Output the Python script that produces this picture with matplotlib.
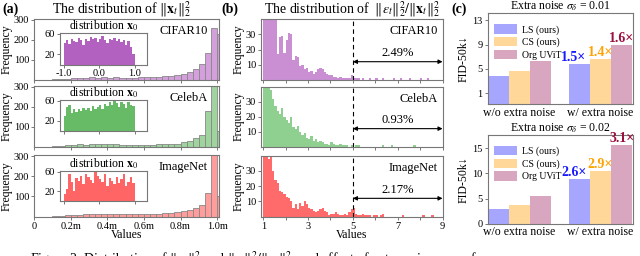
import numpy as np
import matplotlib
matplotlib.use("Agg")
import matplotlib.pyplot as plt

plt.rcParams["font.family"] = ["Liberation Serif", "DejaVu Serif"]
plt.rcParams["mathtext.fontset"] = "stix"

# ---- (a) histogram of ||x_t||^2, 31 bins of width 1/30 ----
a_names = ["CIFAR10", "CelebA", "ImageNet"]
a_cifar = [0, 0, 1, 3, 5, 5, 8, 8, 10, 14, 12, 15, 12, 14, 10, 12,
           12, 14, 13, 14, 16, 18, 20, 26, 32, 42, 55, 80, 135, 260, 230]
a_celeba = [0, 0, 0, 3, 5, 8, 10, 12, 10, 12, 14, 14, 12, 12, 10, 8,
            10, 8, 8, 10, 12, 14, 12, 16, 22, 30, 45, 60, 180, 310, 80]
a_imagenet = [0, 0, 0, 2, 5, 8, 10, 10, 12, 12, 14, 12, 14, 12, 12, 12,
              12, 12, 14, 14, 14, 16, 18, 22, 28, 32, 45, 60, 118, 320, 100]

# insets: distribution of x_0, 30 bins over [-1, 1]
in_cifar = [42, 48, 40, 50, 45, 44, 52, 47, 38, 50, 46, 53, 49, 52, 44,
            50, 55, 47, 41, 50, 48, 52, 46, 50, 44, 47, 38, 45, 35, 20]
in_celeba = [30, 48, 52, 36, 45, 38, 44, 40, 47, 42, 46, 40, 50, 44, 48,
             52, 45, 55, 50, 58, 52, 60, 56, 48, 58, 55, 46, 58, 52, 50]
in_imagenet = [15, 25, 55, 40, 20, 48, 42, 52, 35, 56, 50, 44, 38, 60, 52,
               45, 40, 55, 30, 48, 42, 35, 50, 38, 45, 55, 30, 40, 50, 38]

# ---- (b) histogram of ||eps||^2/||x||^2, 80 bins of width 0.1 from 1 ----
b_cifar = [45, 45, 45, 45, 45, 42, 17, 28, 29, 18,
           26, 31, 30, 13, 16, 15, 9, 10, 7, 8,
           5, 6, 4, 5, 7, 8, 7, 5, 4, 3,
           3, 2, 2, 1, 2, 1, 1, 1, 1, 3,
           1, 1, 1, 0, 1, 0, 0, 1, 0, 0,
           1, 0, 0, 1, 0, 0, 0, 0, 1, 0,
           0, 1, 0, 0, 0, 1, 0, 0, 0, 0,
           1, 0, 0, 1, 0, 0, 0, 0, 0, 0]
b_celeba = [45, 45, 45, 38, 32, 27, 24, 22, 26, 20,
            18, 16, 20, 13, 12, 14, 10, 8, 9, 6,
            5, 7, 4, 5, 3, 4, 3, 2, 2, 1,
            3, 2, 1, 1, 2, 1, 1, 1, 0, 1,
            0, 1, 1, 0, 0, 0, 0, 0, 0, 0,
            0, 0, 0, 1, 0, 0, 0, 1, 0, 0,
            0, 0, 0, 0, 0, 0, 0, 1, 0, 0,
            0, 0, 0, 0, 0, 0, 0, 0, 0, 0]
b_imagenet = [45, 40, 38, 40, 30, 24, 22, 17, 16, 15,
              13, 12, 10, 6, 8, 5, 9, 7, 10, 8,
              6, 5, 4, 3, 4, 5, 6, 4, 3, 1,
              2, 2, 3, 2, 1, 1, 2, 1, 3, 5,
              6, 2, 1, 1, 2, 1, 1, 1, 0, 1,
              1, 0, 1, 2, 0, 0, 0, 0, 0, 0,
              0, 0, 1, 0, 0, 0, 0, 0, 0, 0,
              0, 1, 0, 0, 0, 1, 0, 0, 0, 0]
b_pct = ["2.49%", "0.93%", "2.17%"]

# ---- (c) FID-50k bars ----
c_groups = ["w/o extra noise", "w/ extra noise"]
c_methods = ["LS (ours)", "CS (ours)", "Org UViT"]
c_top = [[3.9, 5.9], [4.6, 6.7], [6.3, 9.0]]
c_top_ratio = ["1.5×", "1.4×", "1.6×"]
c_bot = [[3.0, 8.8], [3.8, 10.5], [5.5, 15.7]]
c_bot_ratio = ["2.6×", "2.9×", "3.1×"]

W, H = 640, 256
fig = plt.figure(figsize=(6.4, 2.56), dpi=100)


def box(x0, y0, x1, y1):
    # pixel box (top-left origin) -> figure rect
    return [x0 / W, 1 - y1 / H, (x1 - x0) / W, (y1 - y0) / H]


def grey_spines(ax, size=7.5):
    for s in ax.spines.values():
        s.set_color("#777777")
        s.set_linewidth(0.8)
    ax.tick_params(colors="#777777", labelcolor="black", labelsize=size,
                   length=2.5, width=0.7, pad=1)


fill_a = ["#d4a0dc", "#9fd49f", "#ff9d9d"]
fill_in = ["#a545b5", "#4cb04c", "#ff4a4a"]
fill_b = ["#c98fd2", "#8fcf8f", "#ff6a6a"]

a_data = [a_cifar, a_celeba, a_imagenet]
in_data = [in_cifar, in_celeba, in_imagenet]
b_data = [b_cifar, b_celeba, b_imagenet]
a_rows = [(18.5, 80), (86, 146.7), (155, 216.7)]
in_rows = [(32.7, 64.5), (100, 131), (171, 201)]

a_edges = np.arange(31) / 30
in_edges = np.linspace(-1, 1, 31)[:-1]
b_edges = 1 + np.arange(80) * 0.1

for k in range(3):
    y0, y1 = a_rows[k]
    ax = fig.add_axes(box(34, y0, 219, y1))
    ax.bar(a_edges, a_data[k], width=1 / 30, align="edge", color=fill_a[k],
           edgecolor="#888888", linewidth=0.6)
    ax.set_xlim(0, 1.01)
    ax.set_ylim(0, 305)
    ax.set_yticks([100, 200, 300])
    ax.set_xticks([0, 0.2, 0.4, 0.6, 0.8, 1.0])
    grey_spines(ax)
    ax.set_ylabel("Frequency", fontsize=8.5, labelpad=1)
    if k < 2:
        ax.set_xticklabels([])
    else:
        ax.set_xticklabels(["0", "0.2m", "0.4m", "0.6m", "0.8m", "1.0m"])
        ax.set_xlabel("Values", fontsize=8.5, labelpad=-1)
    ax.text(0.94, 0.8, a_names[k], transform=ax.transAxes, ha="right",
            va="center", fontsize=9)

    iy0, iy1 = in_rows[k]
    ai = fig.add_axes(box(60, iy0, 147, iy1))
    ai.bar(in_edges, in_data[k], width=2 / 30, align="edge", color=fill_in[k],
           alpha=0.85, linewidth=0)
    ai.set_xlim(-1.1, 1.35)
    ai.set_ylim(0, 62)
    ai.set_yticks([20, 60])
    ai.set_xticks([-1, 0, 1])
    grey_spines(ai)
    if k == 0:
        ai.set_xticklabels(["-1.0", "0.0", "1.0"])
    else:
        ai.set_xticklabels([])
    ai.set_title(r"distribution $\mathbf{x}_0$", fontsize=8.5, pad=1)

    # (b)
    bx = fig.add_axes(box(261, y0 + 0.5, 443, y1))
    bx.bar(b_edges, b_data[k], width=0.1, align="edge", color=fill_b[k],
           linewidth=0)
    bx.set_xlim(0.9, 9.02)
    bx.set_ylim(0, 40)
    bx.set_yticks([10, 20, 30])
    bx.set_xticks([1, 2, 3, 4, 5, 6, 7, 8, 9])
    grey_spines(bx)
    bx.set_ylabel("Frequency", fontsize=8.5, labelpad=1)
    if k < 2:
        bx.set_xticklabels([])
    else:
        bx.set_xticklabels(["1", "", "3", "", "5", "", "7", "", "9"])
        bx.set_xlabel("Values", fontsize=8.5, labelpad=-1)
    bx.axvline(5, color="black", ls=(0, (4, 3)), lw=0.8)
    bx.annotate("", xy=(9, 12), xytext=(5, 12),
                arrowprops=dict(arrowstyle="<|-|>", color="black", lw=0.8,
                                mutation_scale=6, shrinkA=0, shrinkB=0))
    bx.text(7, 13.5, b_pct[k], ha="center", va="bottom", fontsize=9)
    bx.text(0.97, 0.8, a_names[k], transform=bx.transAxes, ha="right",
            va="center", fontsize=9)

fig.text(2 / W, 1 - 9 / H, "(a)", fontsize=10, fontweight="bold", va="center")
fig.text(122 / W, 1 - 9.5 / H, r"The distribution of $\|\mathbf{x}_t\|_2^2$",
         fontsize=10, ha="center", va="center")
fig.text(221 / W, 1 - 9 / H, "(b)", fontsize=10, fontweight="bold", va="center")
fig.text(352 / W, 1 - 9.5 / H,
         r"The distribution of  $\|\epsilon_t\|_2^2/\|\mathbf{x}_t\|_2^2$",
         fontsize=10, ha="center", va="center")
fig.text(451 / W, 1 - 9 / H, "(c)", fontsize=10, fontweight="bold", va="center")

# (c)
c_cols = ["#a6a6ff", "#ffd899", "#d9a6bf"]
r_cols = ["#1a1aff", "#ffa200", "#9b0f3c"]
bw = 0.26
xg = np.arange(len(c_groups))
r_shift = [-0.07, 0.0, 0.0]


def fid_panel(rect, vals, ratios, ylim, yticks, title):
    ax = fig.add_axes(rect)
    lo = ylim[0]
    for m in range(3):
        h = np.array(vals[m]) - lo
        ax.bar(xg + (m - 1) * bw, h, width=bw, bottom=lo, color=c_cols[m],
               label=c_methods[m])
        ax.text(xg[1] + (m - 1) * bw + r_shift[m], vals[m][1],
                ratios[m], color=r_cols[m], fontsize=10, fontweight="bold",
                ha="center", va="bottom")
    ax.set_xlim(-0.39, 1.40)
    ax.set_ylim(*ylim)
    ax.set_yticks(yticks)
    ax.set_xticks(xg)
    ax.set_xticklabels(c_groups)
    grey_spines(ax)
    ax.tick_params(axis="x", labelsize=8.5, length=0, pad=2)
    ax.set_ylabel("FID-50k↓", fontsize=8.5, labelpad=2)
    ax.set_title(title, fontsize=8.5, pad=0.5)
    ax.legend(loc="upper left", bbox_to_anchor=(0.0, 0.95), frameon=False,
              fontsize=7, handlelength=2.3, handleheight=1.1,
              labelspacing=0.25, borderaxespad=0.3, handletextpad=0.5)
    return ax


fid_panel(box(487.5, 13, 633, 104.3), c_top, c_top_ratio, (-0.8, 14.2),
          [1, 5, 9, 13], r"Extra noise $\sigma_\delta$ = 0.01")
fid_panel(box(487.5, 134.7, 633, 223.7), c_bot, c_bot_ratio, (0, 17.7),
          [0, 5, 10, 15], r"Extra noise $\sigma_\delta$ = 0.02")

# caption, cut off at the bottom edge as in the source page
fig.text(30 / W, -13 / H,
         r"Figure 2: Distribution of $\|\mathbf{x}_t\|_2^2$ and "
         r"$\|\epsilon_t\|_2^2/\|\mathbf{x}_t\|_2^2$, and effect of extra noise on performance",
         fontsize=10, ha="left", va="bottom")

fig.savefig("out.png", dpi=100)
